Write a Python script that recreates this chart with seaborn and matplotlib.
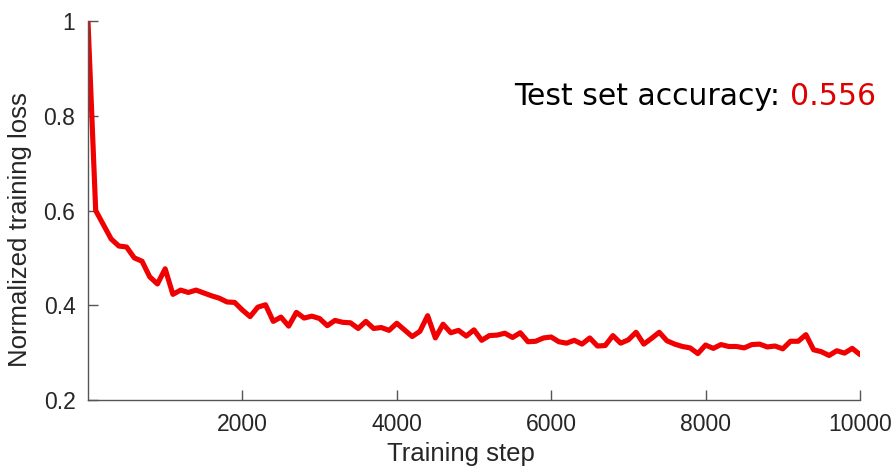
import numpy as np
import pandas as pd
import matplotlib
matplotlib.use("Agg")
import matplotlib.pyplot as plt
import seaborn as sns

# Training loss logged every 100 steps
steps = list(range(0, 10001, 100))
loss = [
    1.000, 0.600, 0.570, 0.540, 0.525, 0.523, 0.500, 0.493, 0.460, 0.445,
    0.477, 0.423, 0.432, 0.427, 0.432, 0.426, 0.420, 0.415, 0.407, 0.406,
    0.390, 0.376, 0.396, 0.401, 0.366, 0.375, 0.356, 0.385, 0.373, 0.377,
    0.372, 0.357, 0.368, 0.364, 0.363, 0.351, 0.366, 0.351, 0.353, 0.347,
    0.362, 0.348, 0.334, 0.345, 0.378, 0.331, 0.360, 0.342, 0.347, 0.335,
    0.348, 0.326, 0.336, 0.337, 0.341, 0.332, 0.342, 0.323, 0.324, 0.331,
    0.333, 0.323, 0.320, 0.326, 0.318, 0.331, 0.314, 0.315, 0.336, 0.320,
    0.327, 0.343, 0.318, 0.330, 0.343, 0.325, 0.318, 0.313, 0.310, 0.298,
    0.316, 0.309, 0.317, 0.313, 0.313, 0.310, 0.317, 0.318, 0.312, 0.314,
    0.308, 0.324, 0.324, 0.338, 0.306, 0.302, 0.294, 0.304, 0.299, 0.309,
    0.296,
]
x_ticks = [2000, 4000, 6000, 8000, 10000]
y_ticks = [0.2, 0.4, 0.6, 0.8, 1.0]
y_tick_labels = ["0.2", "0.4", "0.6", "0.8", "1"]
accuracy = 0.556

sns.set_theme(style="ticks")
plt.rcParams["font.family"] = ["Liberation Sans", "DejaVu Sans"]

df = pd.DataFrame({"step": steps, "loss": loss})

fig = plt.figure(figsize=(8.94, 4.73), dpi=100)
ax = fig.add_axes([0.0984, 0.1543, 0.8635, 0.8013])

sns.lineplot(data=df, x="step", y="loss", ax=ax, color="#f00000",
             linewidth=3.7, solid_joinstyle="round")

ax.set_xlim(0, 10000)
ax.set_ylim(0.2, 1.0)
ax.set_xticks(x_ticks)
ax.set_xticklabels([str(t) for t in x_ticks])
ax.set_yticks(y_ticks)
ax.set_yticklabels(y_tick_labels)

ax.tick_params(direction="in", length=7, width=1, colors="#555555",
               labelcolor="#262626", labelsize=16.5)
ax.tick_params(axis="x", pad=9)
ax.tick_params(axis="y", pad=9)
ax.set_xlabel("Training step", fontsize=18.5, color="#262626")
ax.set_ylabel("Normalized training loss", fontsize=18.5, color="#262626")
ax.xaxis.set_label_coords(0.483, -0.11)
ax.yaxis.set_label_coords(-0.072, 0.45)

for side in ["top", "right"]:
    ax.spines[side].set_visible(False)
for side in ["left", "bottom"]:
    ax.spines[side].set_color("#555555")
    ax.spines[side].set_linewidth(1)

# Accuracy annotation in the upper right corner
t1 = ax.text(0.98, 0.8, "Test set accuracy: ", transform=ax.transAxes,
             fontsize=21.5, family="DejaVu Sans", color="black",
             ha="right", va="center")
fig.canvas.draw()
t2 = ax.annotate(f"{accuracy:.3f}", xy=(1, 0.5), xycoords=t1,
                 fontsize=21.5, family="DejaVu Sans", color="#dd0000",
                 ha="left", va="center")
# shift the pair so the value ends near the right edge
fig.canvas.draw()
r = fig.canvas.get_renderer()
bb2 = t2.get_window_extent(r)
shift = 876 - bb2.x1
pos = ax.transAxes.transform((0.98, 0.8))
t1.set_position(ax.transAxes.inverted().transform((pos[0] + shift, pos[1])))

fig.savefig("out.png", dpi=100)
